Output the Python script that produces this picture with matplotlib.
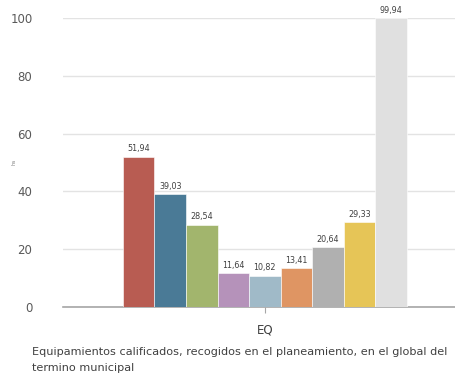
import numpy as np
import matplotlib.pyplot as plt

# datos
categoria = "EQ"
valores = [51.94, 39.03, 28.54, 11.64, 10.82, 13.41, 20.64, 29.33, 99.94]
colores = ['#B85C52', '#4A7A96', '#A2B56D', '#B592BA', '#A0BAC8',
           '#DF9563', '#B0B0B0', '#E6C557', '#E0E0E0']
yticks = [0, 20, 40, 60, 80, 100]

fig = plt.figure(figsize=(4.55, 3.76), dpi=100)
ax = fig.add_axes([63 / 455, 1 - 307 / 376, 392 / 455, 289 / 376])

n = len(valores)
ancho = 0.0805
pos = (np.arange(n) - (n - 1) / 2) * ancho
ax.bar(pos, valores, width=ancho, color=colores, edgecolor='white', linewidth=0.4, zorder=3)

for x, v in zip(pos, valores):
    ax.text(x, v + 1.2, f"{v:.2f}".replace('.', ','), ha='center', va='bottom',
            fontsize=5.8, color='#404040', zorder=4)

ax.set_xlim(-0.515, 0.485)
ax.set_ylim(0, 100)
ax.set_yticks(yticks)
ax.set_xticks([0])
ax.set_xticklabels([categoria])
ax.grid(axis='y', color='#E3E3E3', linewidth=1.0, zorder=0)
for s in ['top', 'right', 'left']:
    ax.spines[s].set_visible(False)
ax.spines['bottom'].set_color('#A6A6A6')
ax.spines['bottom'].set_linewidth(1.2)
ax.tick_params(axis='y', length=0, pad=22, labelsize=8.5, labelcolor='#595959')
ax.tick_params(axis='x', length=4, color='#A6A6A6', pad=8, labelsize=8.5, labelcolor='#404040')
for lbl in ax.get_yticklabels():
    lbl.set_horizontalalignment('right')

fig.text(14 / 455, 1 - 162 / 376, 'ha', rotation=90, fontsize=3.5, color='#808080',
         ha='center', va='center')

fig.text(32 / 455, 1 - 352 / 376, 'Equipamientos calificados, recogidos en el planeamiento, en el global del',
         fontsize=8.1, color='#404040', va='center')
fig.text(32 / 455, 1 - 368 / 376, 'termino municipal',
         fontsize=8.1, color='#404040', va='center')

fig.savefig('out.png', dpi=100)
